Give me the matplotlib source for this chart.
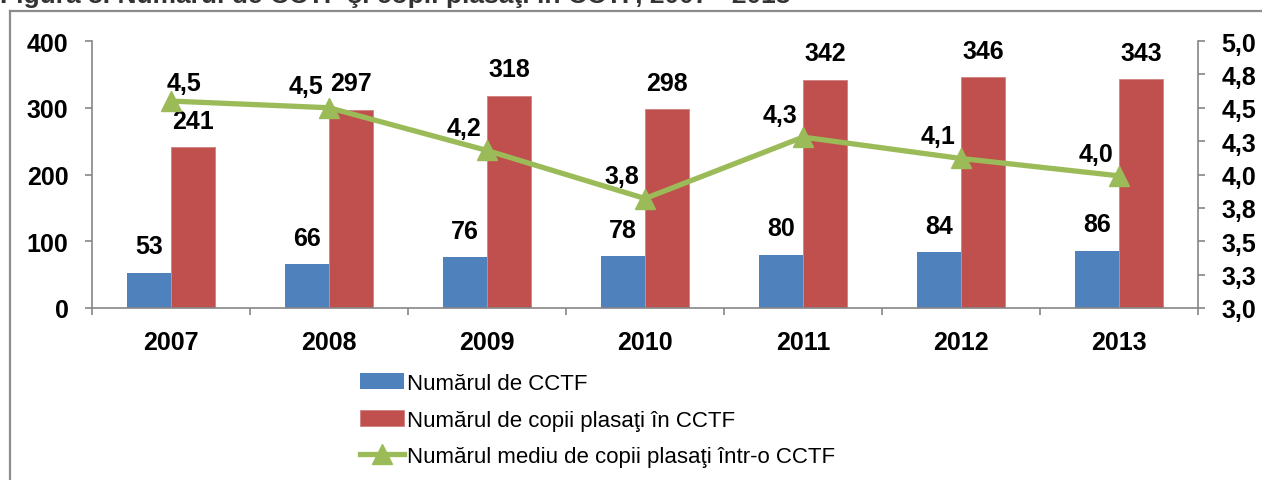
import matplotlib.pyplot as plt
from matplotlib.lines import Line2D
import numpy as np

plt.rcParams['font.family'] = ['Liberation Sans', 'DejaVu Sans']

years = ['2007', '2008', '2009', '2010', '2011', '2012', '2013']
nr_cctf = [53, 66, 76, 78, 80, 84, 86]
nr_copii = [241, 297, 318, 298, 342, 346, 343]
medie_copii = [4.55, 4.50, 4.18, 3.82, 4.28, 4.12, 3.99]
medie_labels = ['4,5', '4,5', '4,2', '3,8', '4,3', '4,1', '4,0']
right_ticks = [3.0, 3.25, 3.5, 3.75, 4.0, 4.25, 4.5, 4.75, 5.0]
right_ticklabels = ['3,0', '3,3', '3,5', '3,8', '4,0', '4,3', '4,5', '4,8', '5,0']

blue = '#4F81BD'
red = '#C0504D'
green = '#9BBB59'
grey = '#868686'
fs = 18

fig = plt.figure(figsize=(12.62, 4.81), dpi=100)
ax = fig.add_axes([92/1262, 1-309/481, (1198-92)/1262, (309-42)/481])
ax2 = ax.twinx()

x = np.arange(len(years))
w = 0.28
b1 = ax.bar(x - w/2, nr_cctf, w, color=blue, label='Numărul de CCTF', zorder=2)
b2 = ax.bar(x + w/2, nr_copii, w, color=red, edgecolor='#D08080', linewidth=0.6,
            label='Numărul de copii plasaţi în CCTF', zorder=2)
ln, = ax2.plot(x, medie_copii, color=green, lw=3.8, marker='^', markersize=15,
               label='Numărul mediu de copii plasaţi într-o CCTF')

for i in range(len(years)):
    ax.annotate(str(nr_cctf[i]), (x[i] - w/2, nr_cctf[i]), xytext=(0, 19),
                textcoords='offset points', ha='center', va='center',
                fontsize=fs, fontweight='bold')
    ax.annotate(str(nr_copii[i]), (x[i] + w/2, nr_copii[i]), xytext=(0, 19),
                textcoords='offset points', ha='center', va='center',
                fontsize=fs, fontweight='bold')

# label offsets (points) for the line values
offs = [(9, 13)] + [(-16.5, 16)] * 6
for i in range(len(years)):
    ax2.annotate(medie_labels[i], (x[i], medie_copii[i]), xytext=offs[i],
                 textcoords='offset points', ha='center', va='center',
                 fontsize=fs, fontweight='bold')

ax.set_xlim(-0.5, len(years) - 0.5)
ax.set_ylim(0, 400)
ax.set_yticks([0, 100, 200, 300, 400])
ax2.set_ylim(3.0, 5.0)
ax2.set_yticks(right_ticks)
ax2.set_yticklabels(right_ticklabels)

ax.set_xticks(x)
ax.set_xticklabels(years)
ax.set_xticks(np.arange(len(years) + 1) - 0.5, minor=True)
ax.tick_params(axis='x', which='major', length=0, pad=16, labelsize=fs)
ax.tick_params(axis='x', which='minor', length=5, color=grey, width=1.2)
ax.tick_params(axis='y', length=5, color=grey, width=1.2, labelsize=fs, pad=12)
ax2.tick_params(axis='y', length=5, color=grey, width=1.2, labelsize=fs, pad=12)
for lab in ax.get_xticklabels() + ax.get_yticklabels() + ax2.get_yticklabels():
    lab.set_fontweight('bold')

for a in (ax, ax2):
    a.spines['top'].set_visible(False)
    for s in ('left', 'right', 'bottom'):
        a.spines[s].set_color(grey)
        a.spines[s].set_linewidth(1.2)
ax.spines['right'].set_visible(False)
ax2.spines['left'].set_visible(False)
ax2.spines['bottom'].set_visible(False)
ax2.set_zorder(ax.get_zorder() + 1)
ax2.patch.set_visible(False)

fig.legend(handles=[b1, b2, ln], loc='upper left', bbox_to_anchor=(360/1262, 1-374/481),
           frameon=False, fontsize=16, handlelength=2.0, handletextpad=0.1,
           labelspacing=0.7, borderaxespad=0, borderpad=0)

# outer frame and clipped title
fig.add_artist(Line2D([10/1262, 10/1262], [0, 1-12/481], color='#8C8C8C', lw=1.6,
                      transform=fig.transFigure))
fig.add_artist(Line2D([10/1262, 1], [1-12/481, 1-12/481], color='#8C8C8C', lw=1.6,
                      transform=fig.transFigure))
fig.text(0.0, 1-3/481, 'Figura 8. Numărul de CCTF şi copii plasaţi în CCTF, 2007 - 2013',
         fontsize=19, fontweight='bold', color='#333333', va='baseline', ha='left')

fig.savefig('out.png', dpi=100)
